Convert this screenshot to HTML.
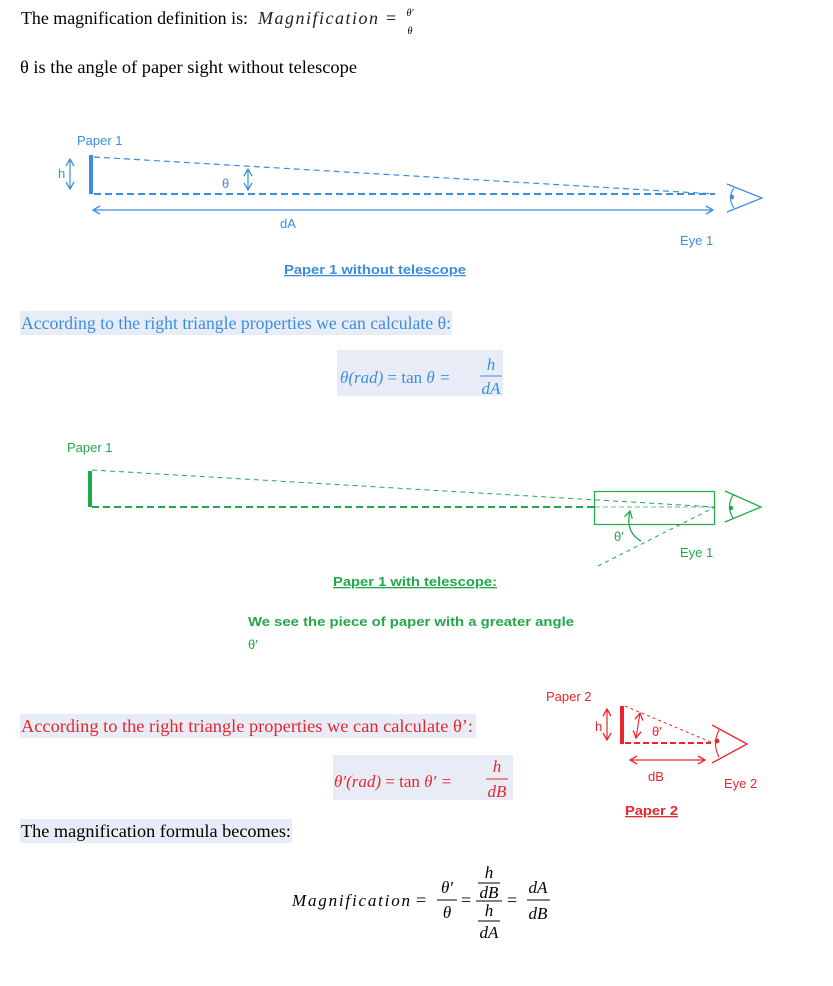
<!DOCTYPE html>
<html><head><meta charset="utf-8"><style>
html,body{margin:0;padding:0;background:#fff;width:833px;height:986px;overflow:hidden}
svg{display:block}
.s{font-family:"Liberation Serif",serif;font-size:18px}
.m{font-family:"Liberation Serif",serif;font-style:italic;font-size:17px}
.a{font-family:"Liberation Sans","DejaVu Sans",sans-serif;font-size:13px}
</style></head><body>
<svg width="833" height="986" xmlns="http://www.w3.org/2000/svg">
<defs>
<marker id="ab" markerWidth="10" markerHeight="10" refX="8" refY="5" orient="auto-start-reverse" markerUnits="userSpaceOnUse"><path d="M1,1 L8,5 L1,9" fill="none" stroke="#3b8de0" stroke-width="1.3"/></marker>
<marker id="ar" markerWidth="10" markerHeight="10" refX="8" refY="5" orient="auto-start-reverse" markerUnits="userSpaceOnUse"><path d="M1,1 L8,5 L1,9" fill="none" stroke="#e8262c" stroke-width="1.3"/></marker>
<marker id="ag" markerWidth="10" markerHeight="10" refX="8" refY="5" orient="auto" markerUnits="userSpaceOnUse"><path d="M1,1 L8,5 L1,9" fill="none" stroke="#22a84a" stroke-width="1.3"/></marker>
</defs>
<!-- line 1 -->
<text x="21" y="24" class="s" textLength="227" lengthAdjust="spacingAndGlyphs">The magnification definition is:</text>
<text x="258" y="24" class="m" style="font-size:18px" textLength="120" lengthAdjust="spacing" fill="#222">Magnification</text>
<text x="386" y="24" class="s">=</text>
<text x="410" y="16" style="font-family:'Liberation Serif',serif;font-style:italic;font-size:10px" text-anchor="middle">θ′</text>
<text x="410" y="34" style="font-family:'Liberation Serif',serif;font-style:italic;font-size:10px" text-anchor="middle">θ</text>
<text x="20" y="73" class="s" textLength="337" lengthAdjust="spacingAndGlyphs">θ is the angle of paper sight without telescope</text>

<!-- blue diagram -->
<g stroke="#3b8de0" fill="none">
<rect x="89" y="155" width="4" height="39" fill="#3b8de0" stroke="none"/>
<line x1="70" y1="159" x2="70" y2="189" marker-start="url(#ab)" marker-end="url(#ab)" stroke-width="1.2"/>
<line x1="94" y1="157" x2="715" y2="194" stroke-dasharray="6,4" stroke-width="1.2"/>
<line x1="94" y1="194" x2="715" y2="194" stroke-dasharray="7,4" stroke-width="2"/>
<line x1="248" y1="169" x2="248" y2="190" marker-start="url(#ab)" marker-end="url(#ab)" stroke-width="1.2"/>
<line x1="93" y1="210" x2="713" y2="210" marker-start="url(#ab)" marker-end="url(#ab)" stroke-width="1.3"/>
<path d="M727,184 L762,198 L727,212" stroke-width="1.3"/>
<path d="M734,188 Q727,198 734,208" stroke-width="1.2"/>
<circle cx="732" cy="197" r="2.2" fill="#3b8de0" stroke="none"/>
</g>
<g class="a" fill="#3b8de0">
<text x="77" y="145">Paper 1</text>
<text x="58" y="178">h</text>
<text x="222" y="188">θ</text>
<text x="280" y="228">dA</text>
<text x="680" y="245">Eye 1</text>
<text x="284" y="274" font-weight="bold" text-decoration="underline" textLength="182" lengthAdjust="spacingAndGlyphs">Paper 1 without telescope</text>
</g>

<rect x="20" y="311" width="432" height="24" fill="#e8ecf7"/>
<text x="21" y="329" class="s" fill="#3b8de0" textLength="430" lengthAdjust="spacingAndGlyphs">According to the right triangle properties we can calculate θ:</text>
<rect x="337" y="350" width="166" height="46" fill="#e8ecf7"/>
<text x="340" y="383" class="m" fill="#3b8de0">θ(rad) <tspan font-style="normal">= tan</tspan> θ =</text>
<text x="491" y="370" class="m" fill="#3b8de0" text-anchor="middle">h</text>
<line x1="480" y1="376" x2="502" y2="376" stroke="#3b8de0"/>
<text x="491" y="394" class="m" fill="#3b8de0" text-anchor="middle">dA</text>

<!-- green diagram -->
<g stroke="#22a84a" fill="none">
<rect x="88" y="471" width="4" height="36" fill="#22a84a" stroke="none"/>
<line x1="92" y1="470" x2="715" y2="507" stroke-dasharray="5,4" stroke-width="1"/>
<line x1="92" y1="507" x2="595" y2="507" stroke-dasharray="7,4" stroke-width="2"/>
<line x1="595" y1="507" x2="715" y2="507" stroke-dasharray="5,3" stroke-width="1" opacity="0.7"/>
<rect x="594.5" y="491.5" width="120" height="33" stroke-width="1.2"/>
<line x1="598" y1="566" x2="715" y2="507" stroke-dasharray="4,4" stroke-width="1"/>
<path d="M641,541 Q625,532 630,511" marker-end="url(#ag)" stroke-width="1.3"/>
<path d="M725,491 L761,507 L725,522" stroke-width="1.3"/>
<path d="M733,495 Q726,507 733,518" stroke-width="1.2"/>
<circle cx="731" cy="508" r="2.2" fill="#22a84a" stroke="none"/>
</g>
<g class="a" fill="#22a84a">
<text x="67" y="452">Paper 1</text>
<text x="614" y="541">θ′</text>
<text x="680" y="557">Eye 1</text>
<text x="333" y="586" font-weight="bold" text-decoration="underline" textLength="164" lengthAdjust="spacingAndGlyphs">Paper 1 with telescope:</text>
<text x="248" y="626" font-weight="bold" textLength="326" lengthAdjust="spacingAndGlyphs">We see the piece of paper with a greater angle</text>
<text x="248" y="649">θ′</text>
</g>

<!-- red diagram -->
<g stroke="#e8262c" fill="none">
<rect x="620" y="706" width="4" height="38" fill="#e8262c" stroke="none"/>
<line x1="607" y1="709" x2="607" y2="740" marker-start="url(#ar)" marker-end="url(#ar)" stroke-width="1.2"/>
<line x1="625" y1="706" x2="713" y2="743" stroke-dasharray="3,3" stroke-width="1"/>
<line x1="625" y1="743" x2="711" y2="743" stroke-dasharray="6,3" stroke-width="2"/>
<line x1="640" y1="713" x2="636" y2="738" marker-start="url(#ar)" marker-end="url(#ar)" stroke-width="1.1"/>
<line x1="630" y1="760" x2="705" y2="760" marker-start="url(#ar)" marker-end="url(#ar)" stroke-width="1.2"/>
<path d="M712,725 L747,744 L712,763" stroke-width="1.3"/>
<path d="M719,730 Q712,744 719,757" stroke-width="1.1"/>
<circle cx="717" cy="741" r="2.4" fill="#e8262c" stroke="none"/>
</g>
<g class="a" fill="#e8262c">
<text x="546" y="701">Paper 2</text>
<text x="595" y="731">h</text>
<text x="652" y="736">θ′</text>
<text x="648" y="781">dB</text>
<text x="724" y="788">Eye 2</text>
<text x="625" y="815" font-weight="bold" text-decoration="underline" textLength="53" lengthAdjust="spacingAndGlyphs">Paper 2</text>
</g>

<rect x="20" y="714" width="456" height="24" fill="#e8ecf7"/>
<text x="21" y="732" class="s" fill="#e8262c" textLength="452" lengthAdjust="spacingAndGlyphs">According to the right triangle properties we can calculate θ’:</text>
<rect x="333" y="755" width="180" height="45" fill="#e8ecf7"/>
<text x="334" y="787" class="m" fill="#e8262c">θ′(rad) <tspan font-style="normal">= tan</tspan> θ′ =</text>
<text x="497" y="772" class="m" fill="#e8262c" text-anchor="middle">h</text>
<line x1="486" y1="779" x2="508" y2="779" stroke="#e8262c"/>
<text x="497" y="797" class="m" fill="#e8262c" text-anchor="middle">dB</text>

<rect x="20" y="819" width="272" height="24" fill="#e8ecf7"/>
<text x="21" y="837" class="s" textLength="270" lengthAdjust="spacingAndGlyphs">The magnification formula becomes:</text>

<!-- final formula -->
<text x="292" y="906" class="m" textLength="118" lengthAdjust="spacing">Magnification</text>
<text x="416" y="906" class="s" font-size="17">=</text>
<text x="447" y="893" class="m" text-anchor="middle">θ′</text>
<line x1="437" y1="900" x2="457" y2="900" stroke="#000"/>
<text x="447" y="918" class="m" text-anchor="middle">θ</text>
<text x="461" y="906" class="s" font-size="17">=</text>
<text x="489" y="878" class="m" text-anchor="middle">h</text>
<line x1="478" y1="883" x2="500" y2="883" stroke="#000"/>
<text x="489" y="898" class="m" text-anchor="middle">dB</text>
<line x1="476" y1="901" x2="502" y2="901" stroke="#000"/>
<text x="489" y="916" class="m" text-anchor="middle">h</text>
<line x1="478" y1="921" x2="500" y2="921" stroke="#000"/>
<text x="489" y="938" class="m" text-anchor="middle">dA</text>
<text x="507" y="906" class="s" font-size="17">=</text>
<text x="538" y="893" class="m" text-anchor="middle">dA</text>
<line x1="527" y1="900" x2="550" y2="900" stroke="#000"/>
<text x="538" y="919" class="m" text-anchor="middle">dB</text>
</svg>
</body></html>
